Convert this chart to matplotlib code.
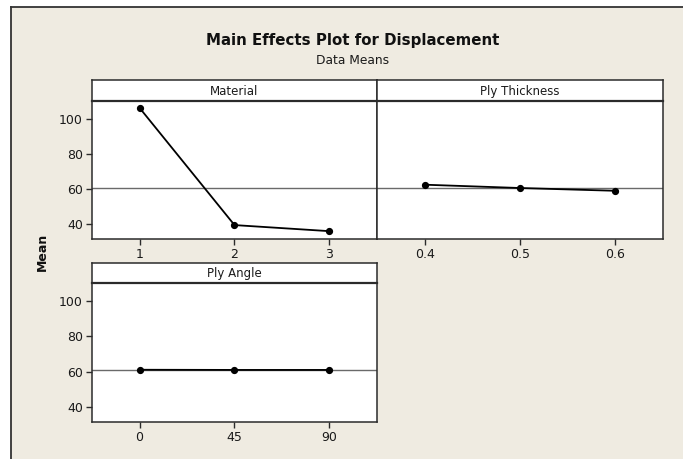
import matplotlib
matplotlib.use('Agg')
import matplotlib.pyplot as plt
from matplotlib.patches import Rectangle
from matplotlib.lines import Line2D

# data means
material_levels = ['1', '2', '3']
material_means = [106.7, 39.3, 35.8]
thickness_levels = ['0.4', '0.5', '0.6']
thickness_means = [62.5, 60.6, 59.0]
angle_levels = ['0', '45', '90']
angle_means = [61.0, 60.9, 60.9]
grand_mean = 60.6
y_ticks = [40, 60, 80, 100]

W, H = 683, 459
BG = '#efebe1'
EDGE = '#2b2b2b'

plt.rcParams['font.family'] = 'DejaVu Sans'
fig = plt.figure(figsize=(W / 100, H / 100), dpi=100, facecolor='white')

# beige panel with dark top/left rule, like the Minitab window
fig.add_artist(Rectangle((11 / W, 0), 1, 1 - 7 / H, transform=fig.transFigure,
                         facecolor=BG, edgecolor='none', zorder=0))
fig.add_artist(Line2D([11 / W, 1], [1 - 7 / H, 1 - 7 / H], transform=fig.transFigure,
                      color='#333333', lw=1.3))
fig.add_artist(Line2D([11 / W, 11 / W], [0, 1 - 7 / H], transform=fig.transFigure,
                      color='#333333', lw=1.3))


def box(px_left, px_top, px_w, px_h):
    return [px_left / W, 1 - (px_top + px_h) / H, px_w / W, px_h / H]


def panel(left, top, width, strip_h, plot_h, name, levels, means, show_y):
    strip = fig.add_axes(box(left, top, width, strip_h))
    strip.set_xticks([])
    strip.set_yticks([])
    strip.set_facecolor('white')
    for s in strip.spines.values():
        s.set_color(EDGE)
        s.set_linewidth(1.1)
    strip.text(0.5, 0.45, name, ha='center', va='center', fontsize=8.5,
               color='#1a1a1a', transform=strip.transAxes)

    ax = fig.add_axes(box(left, top + strip_h, width, plot_h))
    ax.set_facecolor('white')
    ax.axhline(grand_mean, color='#6a6a6a', lw=1.0, zorder=1)
    ax.plot(levels, means, color='black', lw=1.3, marker='o', ms=4.2, zorder=3)
    ax.set_xlim(-0.5, 2.5)
    ax.set_ylim(31.3, 110.6)
    ax.set_yticks(y_ticks)
    for s in ax.spines.values():
        s.set_color(EDGE)
        s.set_linewidth(1.1)
    ax.spines['top'].set_linewidth(1.6)
    ax.tick_params(axis='both', direction='out', length=4, width=1.0,
                   color=EDGE, labelsize=9, labelcolor='#1a1a1a', pad=2.5)
    if not show_y:
        ax.tick_params(axis='y', left=False, labelleft=False)
    return ax


panel(92, 80, 285, 21, 138, 'Material', material_levels, material_means, True)
panel(377, 80, 286, 21, 138, 'Ply Thickness', thickness_levels, thickness_means, False)
panel(92, 263, 285, 19.5, 139.5, 'Ply Angle', angle_levels, angle_means, True)

fig.text(353 / W, 1 - 40 / H, 'Main Effects Plot for Displacement', ha='center',
         va='center', fontsize=10.8, fontweight='bold', color='#111111')
fig.text(353 / W, 1 - 61 / H, 'Data Means', ha='center', va='center',
         fontsize=8.8, color='#1a1a1a')
fig.text(42 / W, 1 - 252 / H, 'Mean', ha='center', va='center', rotation=90,
         fontsize=9, fontweight='bold', color='#111111')

fig.savefig('out.png', dpi=100, facecolor='white')
